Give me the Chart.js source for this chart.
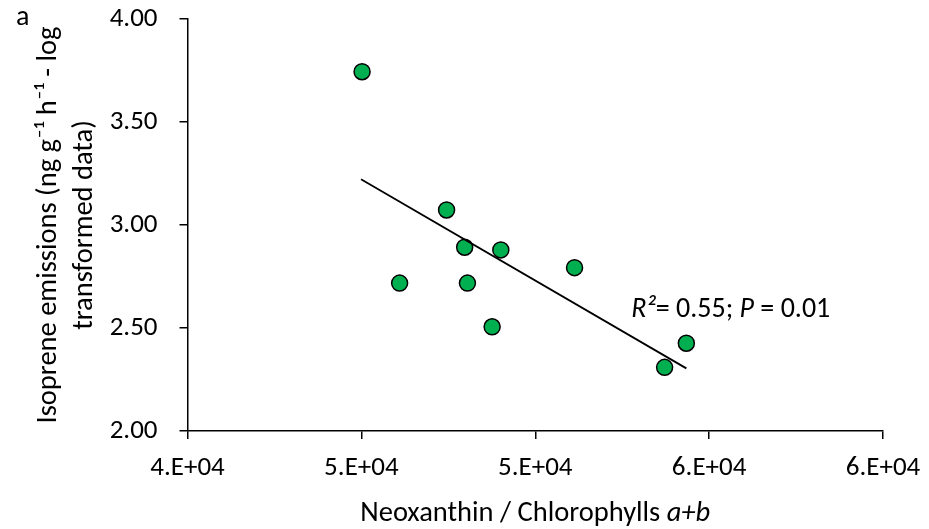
<!DOCTYPE html>
<html>
<head>
<meta charset="utf-8">
<script src="https://cdn.jsdelivr.net/npm/chart.js@4"></script>
<style>
  html, body { margin: 0; padding: 0; background: #fff; }
  #wrap { width: 929px; height: 529px; position: relative; }
</style>
</head>
<body>
<div id="wrap"><canvas id="chart"></canvas></div>
<script>
// ---- data ----
const ratioX = [45020, 47450, 47970, 49010, 46100, 48050, 48760, 51130, 54345, 53720];
const isopreneY = [3.744, 3.073, 2.892, 2.879, 2.718, 2.718, 2.506, 2.793, 2.426, 2.309];
const trendX = [44990, 54345];
const trendY = [3.222, 2.304];
const xTickLabels = ['4.E+04', '5.E+04', '5.E+04', '6.E+04', '6.E+04'];
const yTickLabels = ['2.00', '2.50', '3.00', '3.50', '4.00'];
const yTitle = ['Isoprene emissions (ng g\u207B\u00B9 h\u207B\u00B9 - log', 'transformed data)'];
const annotAt = { x: 52760, y: 2.553 };

const FONT = "Carlito, 'Open Sans', sans-serif";
const FS = 27;

// text plugin: panel letter, x title with italic a+b, R²/P annotation
const textPlugin = {
  id: 'extraText',
  afterDraw(chart) {
    const ctx = chart.ctx;
    const area = chart.chartArea;
    const xs = chart.scales.x, ys = chart.scales.y;
    ctx.save();
    ctx.fillStyle = '#000';
    ctx.textBaseline = 'alphabetic';

    // panel letter
    ctx.font = '28px ' + FONT;
    ctx.textAlign = 'left';
    ctx.fillText('a', 16, 25);

    // mixed-style runs drawn one after another
    function runs(parts, x, y, align, size) {
      let total = 0;
      parts.forEach(p => { ctx.font = p[1] + size + 'px ' + FONT; total += ctx.measureText(p[0]).width; });
      let cx = align === 'center' ? x - total / 2 : x;
      ctx.textAlign = 'left';
      parts.forEach(p => {
        ctx.font = p[1] + size + 'px ' + FONT;
        ctx.fillText(p[0], cx, y);
        cx += ctx.measureText(p[0]).width;
      });
    }

    runs([['Neoxanthin / Chlorophylls ', ''], ['a+b', 'italic ']],
      (area.left + area.right) / 2, 521, 'center', 28.5);

    runs([['R\u00B2', 'italic '], ['= 0.55; ', ''], ['P', 'italic '], [' = 0.01', '']],
      xs.getPixelForValue(annotAt.x), ys.getPixelForValue(annotAt.y), 'left', 28);

    ctx.restore();
  }
};

const scatterPoints = ratioX.map((x, i) => ({ x: x, y: isopreneY[i] }));
const trendPoints = trendX.map((x, i) => ({ x: x, y: trendY[i] }));

new Chart(document.getElementById('chart'), {
  type: 'scatter',
  data: {
    datasets: [
      {
        label: 'Isoprene',
        data: scatterPoints,
        pointRadius: 8,
        pointHoverRadius: 8,
        backgroundColor: '#00B050',
        borderColor: '#000',
        borderWidth: 1.5,
        order: 1
      },
      {
        label: 'Trend',
        data: trendPoints,
        showLine: true,
        pointRadius: 0,
        borderColor: '#000',
        borderWidth: 1.8,
        order: 0
      }
    ]
  },
  options: {
    responsive: true,
    maintainAspectRatio: false,
    animation: false,
    layout: { padding: { left: 0, top: 19, right: 46, bottom: 0 } },
    plugins: {
      legend: { display: false },
      tooltip: { enabled: false }
    },
    scales: {
      x: {
        type: 'linear',
        min: 40000,
        max: 60000,
        afterFit: s => { s.height = 98; s.paddingLeft = 0; s.paddingRight = 0; },
        border: { color: '#000', width: 1.5 },
        grid: { drawOnChartArea: false, drawTicks: true, tickLength: 8, color: '#000', lineWidth: 1.5 },
        ticks: {
          stepSize: 5000,
          color: '#000',
          padding: 13,
          maxRotation: 0,
          font: { family: FONT, size: FS },
          callback: (v, i) => xTickLabels[i]
        }
      },
      y: {
        type: 'linear',
        min: 2,
        max: 4,
        afterFit: s => { s.width = 187.5; s.paddingTop = 0; s.paddingBottom = 0; },
        border: { color: '#000', width: 1.5 },
        grid: { drawOnChartArea: false, drawTicks: true, tickLength: 8, color: '#000', lineWidth: 1.5 },
        ticks: {
          stepSize: 0.5,
          color: '#000',
          padding: 22,
          font: { family: FONT, size: FS },
          callback: (v, i) => yTickLabels[i]
        },
        title: {
          display: true,
          text: yTitle,
          color: '#000',
          padding: { top: 31, bottom: 0 },
          font: { family: FONT, size: 28.5, lineHeight: 1.25 }
        }
      }
    }
  },
  plugins: [textPlugin]
});
</script>
</body>
</html>
